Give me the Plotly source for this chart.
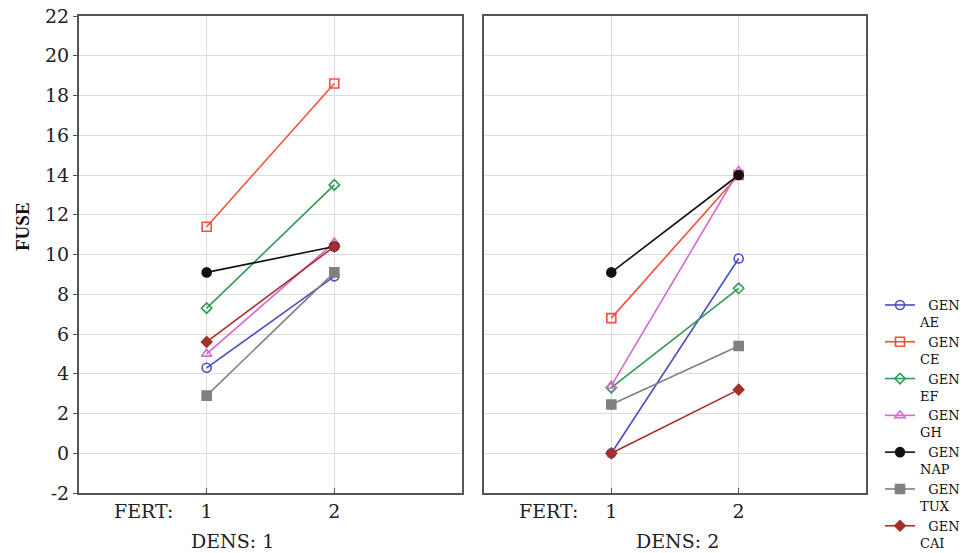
import plotly.graph_objects as go

fert = [1, 2]
genotypes = ["AE", "CE", "EF", "GH", "NAP", "TUX", "CAI"]
dens1 = {
    "AE": [4.3, 8.9],
    "CE": [11.4, 18.6],
    "EF": [7.3, 13.5],
    "GH": [5.0, 10.6],
    "NAP": [9.1, 10.4],
    "TUX": [2.9, 9.1],
    "CAI": [5.6, 10.4],
}
dens2 = {
    "AE": [0.0, 9.8],
    "CE": [6.8, 14.0],
    "EF": [3.3, 8.3],
    "GH": [3.4, 14.2],
    "NAP": [9.1, 14.0],
    "TUX": [2.45, 5.4],
    "CAI": [0.0, 3.2],
}
y_ticks = list(range(-2, 23, 2))
y_ticktext = [str(v) for v in y_ticks]

styles = {
    "AE": dict(color="#4b4fc4", symbol="circle-open", size=9),
    "CE": dict(color="#f4503c", symbol="square-open", size=9),
    "EF": dict(color="#2f9a55", symbol="diamond-open", size=8),
    "GH": dict(color="#d46ad0", symbol="triangle-up-open", size=9),
    "NAP": dict(color="#111111", symbol="circle", size=9),
    "TUX": dict(color="#808080", symbol="square", size=9),
    "CAI": dict(color="#a3302c", symbol="diamond", size=8),
}

fig = go.Figure()
for g in genotypes:
    st = styles[g]
    for ax, data, show in (("x", dens1, True), ("x2", dens2, False)):
        fig.add_trace(go.Scatter(
            x=fert, y=data[g], xaxis=ax, yaxis="y" if ax == "x" else "y2",
            mode="lines+markers", name="&nbsp;&nbsp;GEN<br>" + g,
            legendgroup=g, showlegend=show,
            line=dict(color=st["color"], width=1.6),
            marker=dict(symbol=st["symbol"], size=st["size"], color=st["color"],
                        line=dict(color=st["color"], width=1.6)),
        ))

FONT = "DejaVu Serif"
TICKFONT = dict(family=FONT, size=19, color="#222222")
axis_common = dict(range=[0, 3], tickvals=[1, 2], ticktext=["1", "2"],
                   showgrid=True, gridcolor="#dcdcdc", gridwidth=1,
                   showline=True, mirror=True, linecolor="#555555", linewidth=2,
                   ticks="inside", ticklen=5, tickcolor="#555555",
                   tickfont=TICKFONT, zeroline=False)
yaxis_common = dict(range=[-2, 22], tickvals=y_ticks, ticktext=y_ticktext,
                    showgrid=True, gridcolor="#dcdcdc", gridwidth=1,
                    showline=True, mirror=True, linecolor="#555555", linewidth=2,
                    zeroline=False)

W, H = 980, 553
ml, mr, mt, mb = 79, 114, 16, 60
pw = W - ml - mr
ph = H - mt - mb

def px(x):
    return (x - ml) / pw

def py(y):
    return (H - mb - y) / ph

def label(text, x, y, font=TICKFONT, **kw):
    return dict(text=text, x=px(x), y=py(y), xref="paper", yref="paper",
                xanchor="center", yanchor="middle", showarrow=False, font=font, **kw)

fig.update_layout(
    width=W, height=H,
    margin=dict(l=ml, r=mr, t=mt, b=mb, autoexpand=False),
    paper_bgcolor="white", plot_bgcolor="white",
    xaxis=dict(domain=[0, px(462)], **axis_common),
    xaxis2=dict(domain=[px(484), 1], anchor="y2", **axis_common),
    yaxis=dict(ticks="outside", ticklen=4, tickcolor="#555555",
               tickfont=TICKFONT, **yaxis_common),
    yaxis2=dict(anchor="x2", matches="y", showticklabels=False, ticks="", **yaxis_common),
    legend=dict(x=px(880), y=py(290), xanchor="left", yanchor="top",
                font=dict(family=FONT, size=13, color="#111111"),
                valign="top", bgcolor="rgba(0,0,0,0)", tracegroupgap=0,
                itemwidth=30),
    showlegend=True,
    annotations=[
        label("FERT:", 143, 511),
        label("FERT:", 548, 511),
        label("DENS: 1", 232, 541),
        label("DENS: 2", 677, 541),
        label("<b>FUSE</b>", 22, 227, textangle=-90,
              font=dict(family="Liberation Serif", size=19, color="#111111")),
    ],
)

fig.write_html("out.html")
